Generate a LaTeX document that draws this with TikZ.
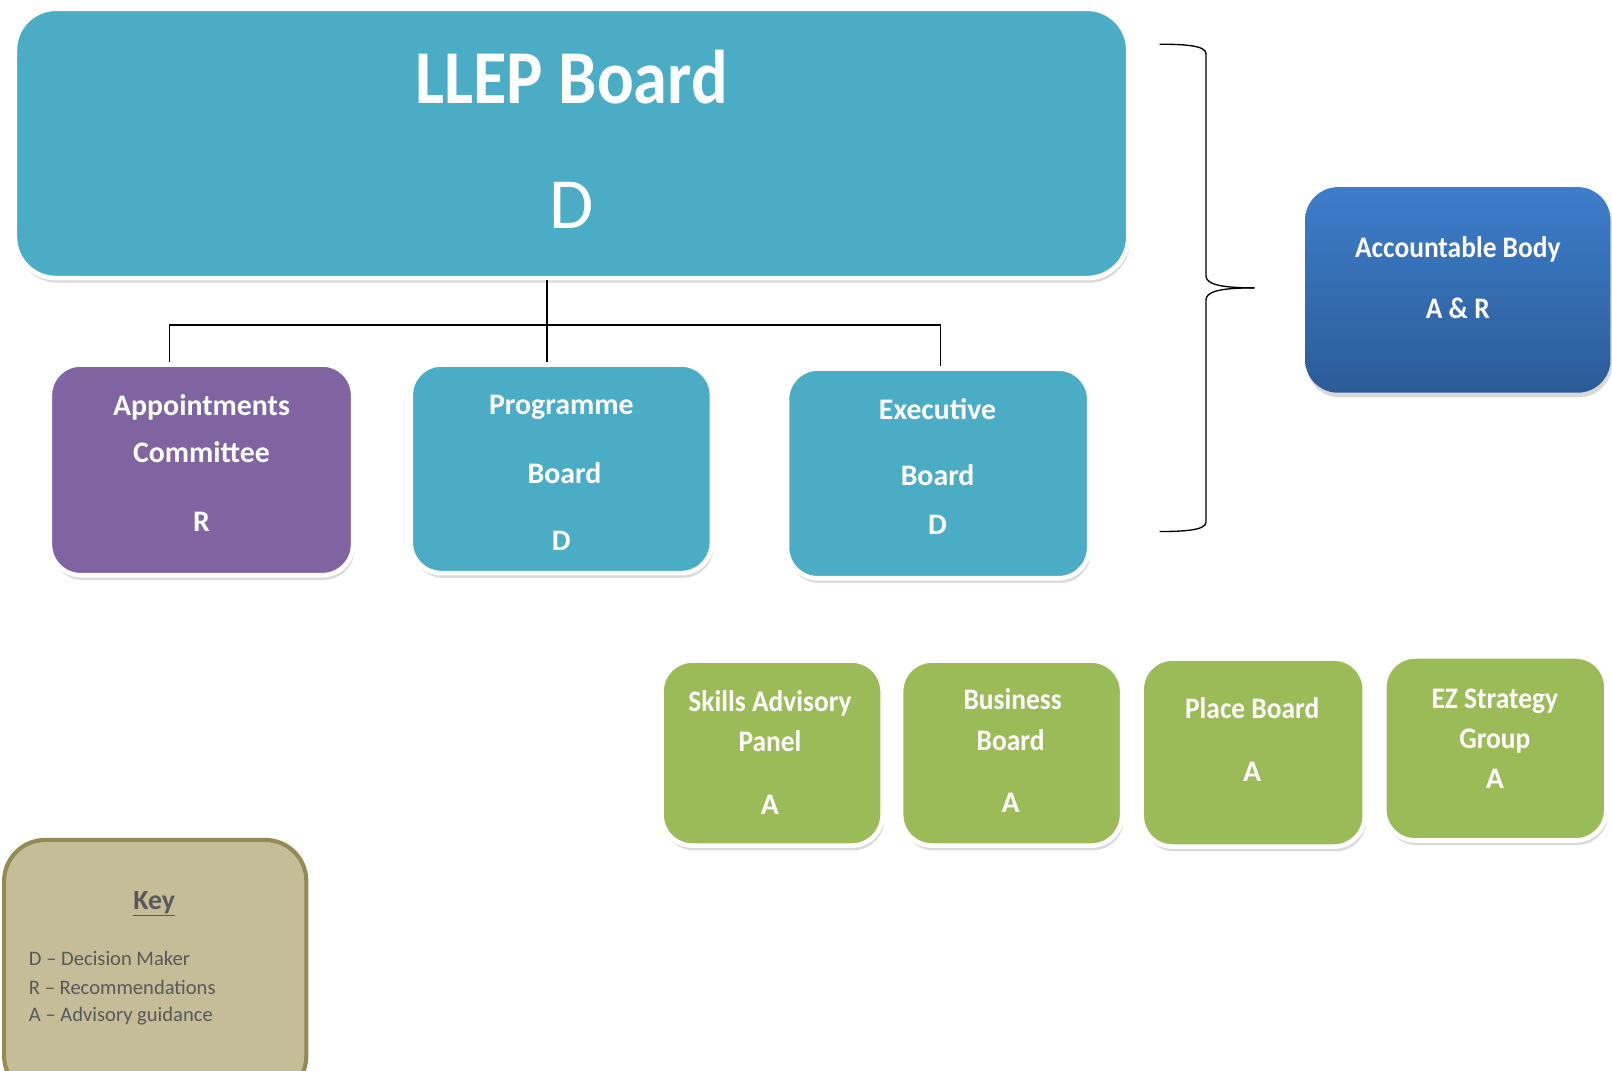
\documentclass[tikz,border=0pt]{standalone}
\usepackage{fontspec}
\setmainfont{Carlito}
\usetikzlibrary{shadows}
\definecolor{llepteal}{HTML}{4BACC6}
\definecolor{apppurple}{HTML}{8064A2}
\definecolor{advgreen}{HTML}{9BBB59}
\definecolor{acctop}{HTML}{3D7DCA}
\definecolor{accbot}{HTML}{2C5C98}
\definecolor{keyfill}{HTML}{C4BD97}
\definecolor{keyline}{HTML}{948A54}
\definecolor{keytext}{HTML}{595959}
\newcommand{\narrowtxt}[1]{\scalebox{0.92}[1]{#1}}
\tikzset{
  orgbox/.style={rounded corners=30pt, draw=white, line width=4.5pt, inner sep=0pt,
    drop shadow={opacity=0.3, shadow xshift=1.5pt, shadow yshift=-4.5pt}},
  boxtext/.style={text=white, font=\bfseries\fontsize{29}{35}\selectfont, inner sep=0pt, anchor=base},
  keyitem/.style={text=keytext, font=\fontsize{20}{24}\selectfont, inner sep=0pt, anchor=base west},
  link/.style={line width=1.3pt, draw=black}
}
\begin{document}
\begin{tikzpicture}[x=1pt,y=-1pt]
\useasboundingbox (0,0) rectangle (1568,1041);
\clip (0,0) rectangle (1568,1041);
% main board
\node[orgbox, rounded corners=40pt, fill=llepteal, minimum width=1083pt, minimum height=262pt] (llep) at (556,139.5) {};
\node[text=white, font=\bfseries\fontsize{74}{80}\selectfont, inner sep=0pt, anchor=base] (llept) at (556,101) {\scalebox{0.9}[1]{LLEP Board}};
\node[text=white, font=\fontsize{70}{74}\selectfont, inner sep=0pt, anchor=base] (llepd) at (556,222) {D};
% second row
\node[orgbox, fill=apppurple, minimum width=295pt, minimum height=205pt] (appt) at (196,457) {};
\node[orgbox, fill=llepteal, minimum width=293pt, minimum height=203pt] (prog) at (546,456) {};
\node[orgbox, fill=llepteal, minimum width=294pt, minimum height=204pt] (exec) at (912.5,460.5) {};
\node[boxtext] (appt1) at (196,404) {Appointments};
\node[boxtext] (appt2) at (196,450) {Committee};
\node[boxtext] (appt3) at (196,517) {R};
\node[boxtext] (prog1) at (546,403) {Programme};
\node[boxtext] (prog2) at (549,470) {Board};
\node[boxtext] (prog3) at (546,535) {D};
\node[boxtext] (exec1) at (912,408) {Executive};
\node[boxtext] (exec2) at (912,472) {Board};
\node[boxtext] (exec3) at (912,520) {D};
% connectors
\coordinate (jmid) at (532,316);
\coordinate (jleft) at (165,316);
\coordinate (jright) at (915,316);
\draw[link] (llep.south -| jmid) -- (jmid |- prog.north);
\draw[link] (jleft |- appt.north) -- (jleft) -- (jright) -- (jright |- exec.north);
% brace
\coordinate (btop) at (1128,43);
\coordinate (bbot) at (1128,517);
\coordinate (btip) at (1220,280);
\draw[line width=1.3pt] (btop) .. controls (1150,43) and (1173,44) .. (1173,52)
  -- (1173,268) .. controls (1173,276) and (1185,280) .. (btip);
\draw[line width=1.3pt] (bbot) .. controls (1150,517) and (1173,516) .. (1173,508)
  -- (1173,292) .. controls (1173,284) and (1185,280) .. (btip);
% accountable body
\node[rounded corners=32pt, inner sep=0pt, top color=acctop, bottom color=accbot,
  minimum width=297pt, minimum height=200pt,
  drop shadow={opacity=0.3, shadow xshift=1.5pt, shadow yshift=-4.5pt}] (acc) at (1418,282) {};
\node[boxtext] (acc1) at (1418,250) {\narrowtxt{Accountable Body}};
\node[boxtext] (acc2) at (1418,310) {\narrowtxt{A \& R}};
% advisory row
\node[orgbox, fill=advgreen, minimum width=215pt, minimum height=180pt] (skills) at (751,732.5) {};
\node[orgbox, fill=advgreen, minimum width=215pt, minimum height=180pt] (bus) at (984,732.5) {};
\node[orgbox, fill=advgreen, minimum width=217pt, minimum height=183pt] (place) at (1219,732) {};
\node[orgbox, fill=advgreen, minimum width=216pt, minimum height=179pt] (ez) at (1454.5,728) {};
\node[boxtext] (skills1) at (749,692) {\narrowtxt{Skills Advisory}};
\node[boxtext] (skills2) at (749,731) {\narrowtxt{Panel}};
\node[boxtext] (skills3) at (749,792) {A};
\node[boxtext] (bus1) at (985,690) {\narrowtxt{Business}};
\node[boxtext] (bus2) at (983,730) {\narrowtxt{Board}};
\node[boxtext] (bus3) at (983,790) {A};
\node[boxtext] (place1) at (1218,699) {\narrowtxt{Place Board}};
\node[boxtext] (place2) at (1218,760) {A};
\node[boxtext] (ez1) at (1454,689) {\narrowtxt{EZ Strategy}};
\node[boxtext] (ez2) at (1454,728) {\narrowtxt{Group}};
\node[boxtext] (ez3) at (1454,767) {A};
% key
\node[rounded corners=40pt, draw=keyline, line width=4pt, fill=keyfill, inner sep=0pt,
  minimum width=294pt, minimum height=250pt] (key) at (151,942) {};
\node[text=keytext, font=\bfseries\fontsize{27}{30}\selectfont, inner sep=0pt, anchor=base] (keyt) at (150,885) {\underline{Key}};
\node[keyitem] (k1) at (28,939) {D -- Decision Maker};
\node[keyitem] (k2) at (28,967) {R -- Recommendations};
\node[keyitem] (k3) at (28,994) {A -- Advisory guidance};
\end{tikzpicture}
\end{document}
